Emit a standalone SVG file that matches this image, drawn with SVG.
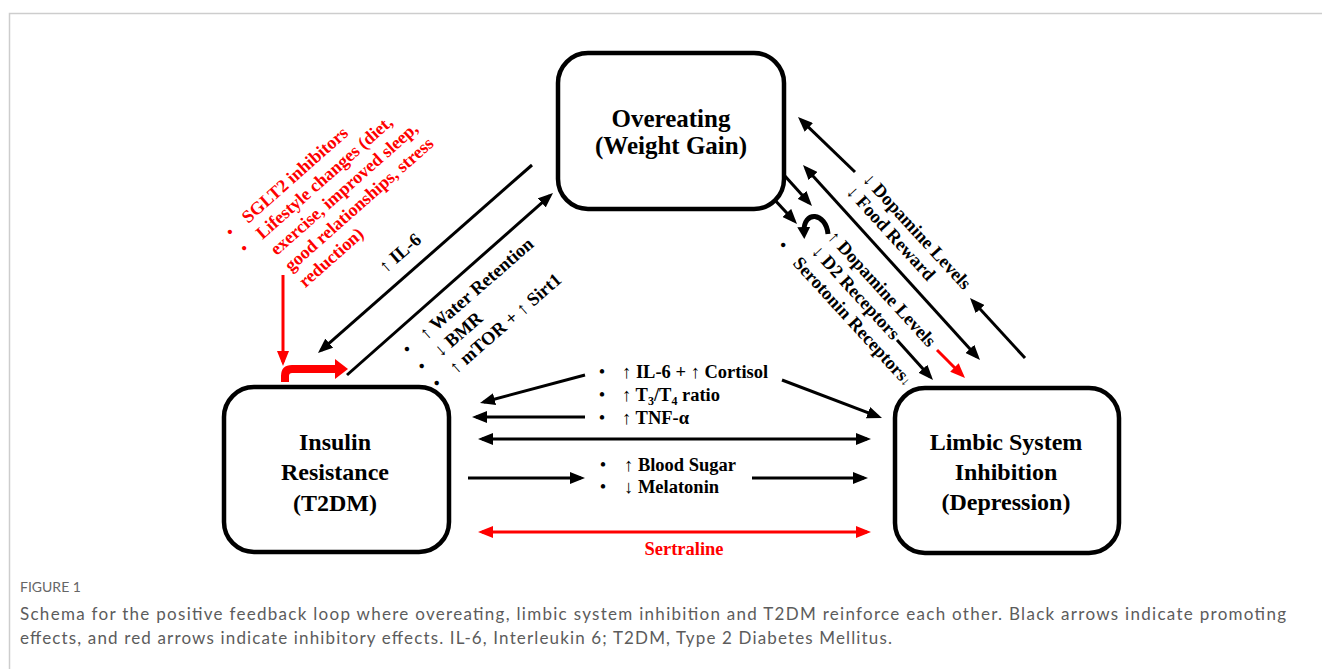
<svg xmlns="http://www.w3.org/2000/svg" width="1322" height="669" viewBox="0 0 1322 669">
<defs>
<style>
.box{fill:#fff;stroke:#000;stroke-width:4.5}
.bt{font-family:"Liberation Serif","Times New Roman",serif;font-weight:bold;font-size:24px;text-anchor:middle;fill:#000}
.lb{font-family:"Liberation Serif","Times New Roman",serif;font-weight:bold;font-size:18.5px;fill:#000}
.rd{fill:#f00}
.a{font-weight:normal}
.bu{font-weight:normal;text-anchor:middle}
.k{stroke:#000;stroke-width:3;fill:none}
.kr{stroke:#f00;stroke-width:3;fill:none}
.me{marker-end:url(#ah)}
.ms{marker-start:url(#ah)}
.mre{marker-end:url(#ahr)}
.mrs{marker-start:url(#ahr)}
.cap{font-family:"Lato","Open Sans",sans-serif;font-size:17px;fill:#5c5c5c}
.fig{font-family:"Lato","Open Sans",sans-serif;font-size:14px;fill:#666}
</style>
<marker id="ah" markerUnits="userSpaceOnUse" markerWidth="15" markerHeight="12" viewBox="0 0 15 12" refX="11" refY="6" orient="auto-start-reverse"><path d="M0,0 L15,6 L0,12 Z" fill="#000"/></marker>
<marker id="ahr" markerUnits="userSpaceOnUse" markerWidth="15" markerHeight="12" viewBox="0 0 15 12" refX="11" refY="6" orient="auto-start-reverse"><path d="M0,0 L15,6 L0,12 Z" fill="#f00"/></marker>
<marker id="ahr2" markerUnits="userSpaceOnUse" markerWidth="13" markerHeight="20" viewBox="0 0 13 20" refX="1" refY="10" orient="auto"><path d="M0,0 L13,10 L0,20 Z" fill="#f00"/></marker>
<marker id="ahu" markerUnits="userSpaceOnUse" markerWidth="12" markerHeight="13" viewBox="0 0 12 13" refX="5" refY="6.5" orient="auto"><path d="M0,0 L12,6.5 L0,13 Z" fill="#000"/></marker>
</defs>
<rect x="0" y="0" width="1322" height="669" fill="#fff"/>
<path d="M9.5,669 L9.5,13.5 L1322,13.5" fill="none" stroke="#cdcdcd" stroke-width="1.5"/>

<g id="connectors">
<path class="k me" d="M532,165 L321,350.4"/>
<path class="k me" d="M347,375 L550,195.6"/>
<path class="k me" d="M1025,358 L972.7,301"/>
<path class="k me" d="M855,172 L800.9,119.8"/>
<path class="k ms me" d="M805.7,168 L977.3,357"/>
<path class="k me" d="M775,165 L809.3,203"/>
<path class="k me" d="M758,182 L794.3,221"/>
<path class="k me" d="M897,340 L930.3,377"/>
<path class="kr mre" d="M937,350 L962.2,375.2"/>
<path d="M828,234 C826,212 803,210 804,232" fill="none" stroke="#000" stroke-width="5" marker-end="url(#ahu)"/>
<path class="k me" d="M585,375 L483.9,402"/>
<path class="k me" d="M782,380 L878.3,416.6"/>
<path class="k me" d="M585,417 L476,417"/>
<path class="k ms me" d="M482,439 L867,439"/>
<path class="k me" d="M468,478 L581,478"/>
<path class="k me" d="M752,478 L864,478"/>
<path class="kr mrs mre" d="M482,532 L867,532"/>
<path class="kr mre" d="M283,275 L283,362"/>
<path d="M285,382 L285,376 Q285,369 292,369 L336,369" fill="none" stroke="#f00" stroke-width="8" marker-end="url(#ahr2)"/>
</g>

<g id="node-overeating">
<rect class="box" x="558" y="53" width="226" height="156" rx="30"/>
<text class="bt" style="font-size:25px" x="671" y="127">Overeating</text>
<text class="bt" style="font-size:25px" x="671" y="154">(Weight Gain)</text>
</g>
<g id="node-insulin">
<rect class="box" x="224" y="387" width="225" height="165" rx="30"/>
<text class="bt" x="335" y="450">Insulin</text>
<text class="bt" x="335" y="480">Resistance</text>
<text class="bt" x="335" y="511">(T2DM)</text>
</g>
<g id="node-limbic">
<rect class="box" x="895" y="388" width="224" height="165" rx="30"/>
<text class="bt" x="1006" y="450">Limbic System</text>
<text class="bt" x="1006" y="480">Inhibition</text>
<text class="bt" x="1006" y="510">(Depression)</text>
</g>

<g id="labels-left">
<g transform="translate(400,253) rotate(-41)">
<text class="lb" x="0" y="6" text-anchor="middle"><tspan class="a">↑</tspan> IL-6</text>
</g>
<g transform="translate(407,349) rotate(-41)">
<text class="lb bu" x="0" y="6">•</text>
<text class="lb bu" x="0" y="28.6">•</text>
<text class="lb bu" x="0" y="51.2">•</text>
<text class="lb" x="20" y="6"><tspan class="a">↑</tspan> Water Retention</text>
<text class="lb" x="20" y="28.6"><tspan class="a">↓</tspan> BMR</text>
<text class="lb" x="20" y="51.2"><tspan class="a">↑</tspan> mTOR + <tspan class="a">↑</tspan> Sirt1</text>
</g>
<g transform="translate(230,232) rotate(-41.5)">
<text class="lb rd bu" style="font-size:18px" x="0" y="6">•</text>
<text class="lb rd bu" style="font-size:18px" x="0" y="27.5">•</text>
<text class="lb rd" style="font-size:18px" x="19" y="6">SGLT2 inhibitors</text>
<text class="lb rd" style="font-size:18px" x="19" y="27.5">Lifestyle changes (diet,</text>
<text class="lb rd" style="font-size:18px" x="19" y="49">exercise, improved sleep,</text>
<text class="lb rd" style="font-size:18px" x="19" y="70.5">good relationships, stress</text>
<text class="lb rd" style="font-size:18px" x="19" y="92">reduction)</text>
</g>
</g>

<g id="labels-right">
<g transform="translate(862,180) rotate(47.5)">
<text class="lb" x="0" y="0"><tspan class="a">↓</tspan> Dopamine Levels</text>
<text class="lb" x="-2" y="20.5"><tspan class="a">↓</tspan> Food Reward</text>
</g>
<g transform="translate(783,245) rotate(47.5)">
<text class="lb bu" x="0" y="6">•</text>
<text class="lb" x="24" y="-37.4"><tspan class="a">↑</tspan> Dopamine Levels</text>
<text class="lb" x="24" y="-15.7"><tspan class="a">↓</tspan> D2 Receptors</text>
<text class="lb" x="20" y="6">Serotonin Receptors<tspan class="a" style="font-size:13px">↓</tspan></text>
</g>
</g>

<g id="labels-center">
<text class="lb bu" x="602" y="378">•</text>
<text class="lb bu" x="602" y="401">•</text>
<text class="lb bu" x="602" y="424">•</text>
<text class="lb" x="622" y="378"><tspan class="a">↑</tspan> IL-6 + <tspan class="a">↑</tspan> Cortisol</text>
<text class="lb" x="622" y="401"><tspan class="a">↑</tspan> T<tspan style="font-size:12px" dy="4">3</tspan><tspan dy="-4">/T</tspan><tspan style="font-size:12px" dy="4">4</tspan><tspan dy="-4"> ratio</tspan></text>
<text class="lb" x="622" y="424"><tspan class="a">↑</tspan> TNF-α</text>
<text class="lb bu" x="603" y="470.5">•</text>
<text class="lb bu" x="603" y="492.5">•</text>
<text class="lb" x="624" y="470.5"><tspan class="a">↑</tspan> Blood Sugar</text>
<text class="lb" x="624" y="492.5"><tspan class="a">↓</tspan> Melatonin</text>
<text class="lb rd" x="684" y="555" text-anchor="middle">Sertraline</text>
</g>

<g id="caption">
<text class="fig" x="20" y="592">FIGURE 1</text>
<text class="cap" x="20" y="620" textLength="1266" lengthAdjust="spacing">Schema for the positive feedback loop where overeating, limbic system inhibition and T2DM reinforce each other. Black arrows indicate promoting</text>
<text class="cap" x="20" y="644" textLength="872" lengthAdjust="spacing">effects, and red arrows indicate inhibitory effects. IL-6, Interleukin 6; T2DM, Type 2 Diabetes Mellitus.</text>
</g>
</svg>
